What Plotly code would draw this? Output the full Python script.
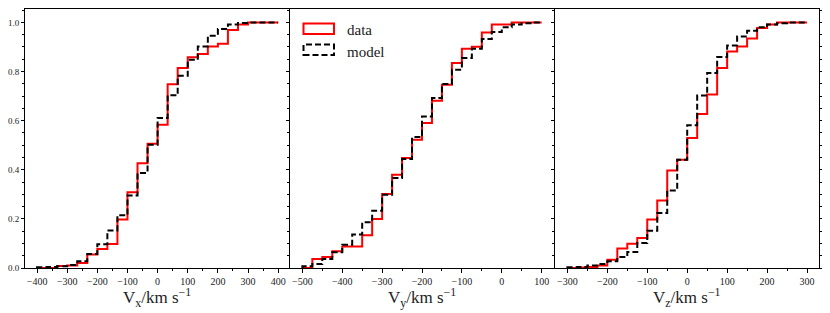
import numpy as np
import plotly.graph_objects as go

# Bin edges (24 bins per panel)
edges_x = np.linspace(-400, 400, 25)
edges_y = np.linspace(-500, 100, 25)
edges_z = np.linspace(-300, 300, 25)

# Cumulative fractions per bin
data_vx = [0.0, 0.0, 0.008, 0.010, 0.020, 0.055, 0.077, 0.098, 0.197, 0.308, 0.427, 0.506,
           0.583, 0.748, 0.814, 0.858, 0.871, 0.902, 0.913, 0.969, 0.991, 1.0, 1.0, 1.0]
model_vx = [0.003, 0.004, 0.007, 0.012, 0.027, 0.057, 0.097, 0.153, 0.215, 0.295, 0.387, 0.502,
            0.611, 0.703, 0.783, 0.848, 0.902, 0.946, 0.973, 0.991, 0.998, 1.0, 1.0, 1.0]

data_vy = [0.0, 0.037, 0.045, 0.068, 0.088, 0.088, 0.133, 0.200, 0.301, 0.380, 0.448, 0.522,
           0.590, 0.681, 0.746, 0.835, 0.893, 0.901, 0.959, 0.991, 0.991, 1.0, 1.0, 1.0]
model_vy = [0.007, 0.016, 0.037, 0.064, 0.095, 0.136, 0.186, 0.233, 0.298, 0.366, 0.444, 0.533,
            0.617, 0.692, 0.749, 0.807, 0.855, 0.893, 0.932, 0.961, 0.980, 0.991, 0.997, 1.0]

data_vz = [0.0, 0.002, 0.004, 0.010, 0.034, 0.079, 0.099, 0.122, 0.197, 0.275, 0.397, 0.441,
           0.529, 0.627, 0.706, 0.814, 0.882, 0.902, 0.934, 0.977, 0.991, 1.0, 1.0, 1.0]
model_vz = [0.003, 0.004, 0.010, 0.016, 0.027, 0.045, 0.065, 0.102, 0.152, 0.224, 0.316, 0.441,
            0.581, 0.702, 0.794, 0.859, 0.906, 0.943, 0.966, 0.980, 0.991, 0.997, 1.0, 1.0]

x_titles = ["V<sub>x</sub>/km s<sup>\u22121</sup>",
            "V<sub>y</sub>/km s<sup>\u22121</sup>",
            "V<sub>z</sub>/km s<sup>\u22121</sup>"]
x_ranges = [[-440, 436], [-531, 131], [-331, 330]]
legend_labels = ["data", "model"]

FONT = "Liberation Serif"
OFF = 8  # default page body margin of the browser
W, H = 830 - OFF, 313 - OFF
ML, MR, MT, MB = 25 - OFF, 11, 1, 45
PW = W - ML - MR
PH = H - MT - MB
BOTTOM = OFF + H - MB  # plot bottom in window pixels
panels_px = [(25, 289), (290, 554), (555, 819)]
domains = [[(a - OFF - ML) / PW, (b - OFF - ML) / PW] for a, b in panels_px]


def step_xy(edges, vals):
    xs = [edges[0]] + list(edges[:-1]) + [edges[-1]]
    ys = [0.0] + list(vals) + [vals[-1]]
    return xs, ys


fig = go.Figure()
sets = [(edges_x, data_vx, model_vx), (edges_y, data_vy, model_vy), (edges_z, data_vz, model_vz)]
for i, (e, d, m) in enumerate(sets):
    xa = "x" if i == 0 else f"x{i+1}"
    ya = "y" if i == 0 else f"y{i+1}"
    xs, ys = step_xy(e, d)
    fig.add_trace(go.Scatter(x=xs, y=ys, mode="lines", line=dict(color="#ff0000", width=2, shape="hv"),
                             xaxis=xa, yaxis=ya, showlegend=False, name=legend_labels[0]))
    xs, ys = step_xy(e, m)
    fig.add_trace(go.Scatter(x=xs, y=ys, mode="lines",
                             line=dict(color="black", width=2, shape="hv", dash="6px,3px"),
                             xaxis=xa, yaxis=ya, showlegend=False, name=legend_labels[1]))

axis_common = dict(showgrid=False, zeroline=False, showline=True, linecolor="black", linewidth=1,
                   ticks="outside", tickcolor="black", ticklen=3.5, tickwidth=1, automargin=False,
                   tickfont=dict(family=FONT, size=10, color="#222"))

layout = dict(width=W, height=H, margin=dict(l=ML, r=MR, t=MT, b=MB, autoexpand=False),
              plot_bgcolor="white", paper_bgcolor="white", showlegend=False,
              font=dict(family=FONT, color="#222"))
for i in range(3):
    xk = "xaxis" if i == 0 else f"xaxis{i+1}"
    yk = "yaxis" if i == 0 else f"yaxis{i+1}"
    ya = "y" if i == 0 else f"y{i+1}"
    xa = "x" if i == 0 else f"x{i+1}"
    layout[xk] = dict(axis_common, domain=domains[i], range=x_ranges[i], anchor=ya,
                      dtick=100, tick0=0, mirror=True,
                      minor=dict(dtick=50, tick0=0, ticklen=2, ticks="outside", tickcolor="black"))
    layout[yk] = dict(axis_common, domain=[0, 1], range=[0, 1.0546], anchor=xa,
                      dtick=0.2, tick0=0, tickformat=".1f", ticklen=3,
                      tickfont=dict(family=FONT, size=9, color="#222"),
                      mirror=("ticks" if i == 2 else True),
                      showticklabels=(i == 0),
                      minor=dict(dtick=0.05, tick0=0, ticklen=2, ticks="outside", tickcolor="black"))
fig.update_layout(**layout)


def ydom(py):
    return (BOTTOM - py) / PH


def xdom(px):
    return (px - 290) / 264


# x-axis titles as annotations below each panel
for i in range(3):
    xa = "x" if i == 0 else f"x{i+1}"
    fig.add_annotation(xref=f"{xa} domain", yref="paper", x=0.5, y=ydom(297),
                       text=x_titles[i], showarrow=False, xanchor="center", yanchor="middle",
                       font=dict(family=FONT, size=17, color="#222"))

# Legend drawn inside the middle panel (patch-style boxes as in the original)
fig.add_shape(type="rect", xref="x2 domain", yref="y2 domain",
              x0=xdom(303.5), x1=xdom(334), y0=ydom(34), y1=ydom(23.5),
              line=dict(color="#ff0000", width=2), fillcolor="rgba(0,0,0,0)")
fig.add_shape(type="rect", xref="x2 domain", yref="y2 domain",
              x0=xdom(303.5), x1=xdom(334), y0=ydom(55), y1=ydom(44.5),
              line=dict(color="black", width=2, dash="6px,3px"), fillcolor="rgba(0,0,0,0)")
fig.add_annotation(xref="x2 domain", yref="y2 domain", x=xdom(345), y=ydom(30.5),
                   text=legend_labels[0], showarrow=False, xanchor="left", yanchor="middle",
                   font=dict(family=FONT, size=15, color="#222"))
fig.add_annotation(xref="x2 domain", yref="y2 domain", x=xdom(345), y=ydom(51.5),
                   text=legend_labels[1], showarrow=False, xanchor="left", yanchor="middle",
                   font=dict(family=FONT, size=15, color="#222"))

fig.write_html("out.html")
